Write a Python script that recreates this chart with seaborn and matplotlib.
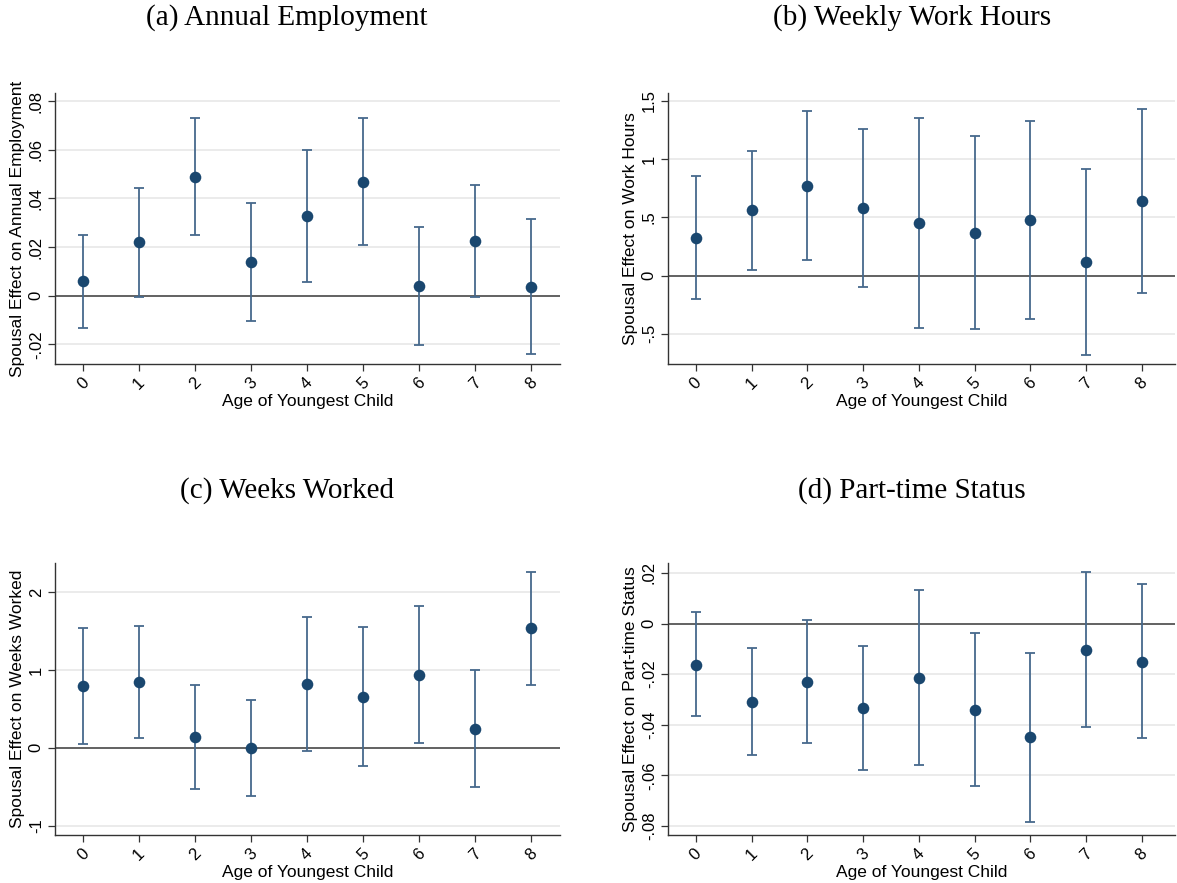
import numpy as np
import pandas as pd
import seaborn as sns
import matplotlib.pyplot as plt
from matplotlib.ticker import FixedLocator

# ── Data ──────────────────────────────────────────────────────────────────────
ages = [0, 1, 2, 3, 4, 5, 6, 7, 8]

emp_est = [0.0060, 0.0219, 0.0488, 0.0137, 0.0327, 0.0469, 0.0040, 0.0227, 0.0036]
emp_hi = [0.0249, 0.0444, 0.0730, 0.0380, 0.0599, 0.0732, 0.0284, 0.0457, 0.0315]
emp_lo = [-0.0131, -0.0005, 0.0249, -0.0105, 0.0057, 0.0208, -0.0202, -0.0004, -0.0241]

hrs_est = [0.326, 0.558, 0.770, 0.578, 0.447, 0.366, 0.475, 0.117, 0.638]
hrs_hi = [0.856, 1.071, 1.409, 1.257, 1.348, 1.197, 1.326, 0.913, 1.429]
hrs_lo = [-0.200, 0.046, 0.132, -0.100, -0.452, -0.461, -0.375, -0.679, -0.152]

wks_est = [0.797, 0.849, 0.137, 0.000, 0.819, 0.656, 0.939, 0.244, 1.534]
wks_hi = [1.539, 1.565, 0.802, 0.617, 1.676, 1.552, 1.826, 0.999, 2.259]
wks_lo = [0.056, 0.133, -0.527, -0.613, -0.034, -0.236, 0.064, -0.506, 0.814]

pt_est = [-0.0162, -0.0309, -0.0230, -0.0333, -0.0214, -0.0342, -0.0450, -0.0103, -0.0151]
pt_hi = [0.0045, -0.0095, 0.0015, -0.0087, 0.0132, -0.0038, -0.0116, 0.0203, 0.0155]
pt_lo = [-0.0366, -0.0518, -0.0472, -0.0577, -0.0559, -0.0643, -0.0785, -0.0410, -0.0453]

emp_ticks = [-0.02, 0, 0.02, 0.04, 0.06, 0.08]
emp_ticklabels = ["-.02", "0", ".02", ".04", ".06", ".08"]
hrs_ticks = [-0.5, 0, 0.5, 1, 1.5]
hrs_ticklabels = ["-.5", "0", ".5", "1", "1.5"]
wks_ticks = [-1, 0, 1, 2]
wks_ticklabels = ["-1", "0", "1", "2"]
pt_ticks = [-0.08, -0.06, -0.04, -0.02, 0, 0.02]
pt_ticklabels = ["-.08", "-.06", "-.04", "-.02", "0", ".02"]

panels = [
    ("(a) Annual Employment", "Spousal Effect on Annual Employment",
     emp_est, emp_lo, emp_hi, emp_ticks, emp_ticklabels, (-0.028, 0.0833)),
    ("(b) Weekly Work Hours", "Spousal Effect on Work Hours",
     hrs_est, hrs_lo, hrs_hi, hrs_ticks, hrs_ticklabels, (-0.759, 1.566)),
    ("(c) Weeks Worked", "Spousal Effect on Weeks Worked",
     wks_est, wks_lo, wks_hi, wks_ticks, wks_ticklabels, (-1.119, 2.375)),
    ("(d) Part-time Status", "Spousal Effect on Part-time Status",
     pt_est, pt_lo, pt_hi, pt_ticks, pt_ticklabels, (-0.0835, 0.0239)),
]

# ── Style ─────────────────────────────────────────────────────────────────────
sns.set_theme(style="white")
plt.rcParams["font.family"] = ["Liberation Sans", "DejaVu Sans"]
plt.rcParams["text.color"] = "black"
plt.rcParams["axes.labelcolor"] = "black"
plt.rcParams["xtick.color"] = "black"
plt.rcParams["ytick.color"] = "black"
NAVY = "#1a476f"
BAR = "#46698c"

fig = plt.figure(figsize=(11.77, 8.83), dpi=100)
# axes rectangles (left, bottom, width, height)
rects = [
    (0.0467, 0.5878, 0.4295, 0.3069),
    (0.5675, 0.5878, 0.4310, 0.3069),
    (0.0467, 0.0544, 0.4295, 0.3080),
    (0.5675, 0.0544, 0.4310, 0.3080),
]
title_pos = [(0.2438, 0.9796), (0.775, 0.9796), (0.2438, 0.4450), (0.775, 0.4450)]

for rect, tpos, (title, ylab, est, lo, hi, ticks, tlabels, ylim) in zip(rects, title_pos, panels):
    ax = fig.add_axes(rect)
    df = pd.DataFrame({"age": ages, "est": est, "lo": lo, "hi": hi})

    for t in ticks:
        if t != 0:
            ax.axhline(t, color="#e8e8e8", linewidth=1.2, zorder=0)
    ax.axhline(0, color="#555555", linewidth=1.3, zorder=1)

    ax.errorbar(df["age"], df["est"],
                yerr=[df["est"] - df["lo"], df["hi"] - df["est"]],
                fmt="none", ecolor=BAR, elinewidth=1.3, capsize=3.5,
                capthick=1.3, zorder=2)
    sns.scatterplot(data=df, x="age", y="est", ax=ax, color=NAVY, s=70,
                    edgecolor=NAVY, linewidth=0, zorder=3)

    ax.set_xlim(-0.5, 8.52 if rect[0] < 0.5 else 8.6)
    ax.set_ylim(*ylim)
    ax.set_xticks(ages)
    ax.set_xticklabels([str(a) for a in ages], rotation=45, fontsize=12)
    ax.yaxis.set_major_locator(FixedLocator(ticks))
    ax.set_yticklabels(tlabels, rotation=90, va="center", fontsize=12)
    ax.tick_params(axis="both", direction="out", length=5, width=0.9,
                   color="#333333", bottom=True, left=True, pad=3)
    ax.set_xlabel("Age of Youngest Child", fontsize=12.5, labelpad=1)
    ax.set_ylabel(ylab, fontsize=12.5, labelpad=3)

    for side in ["top", "right"]:
        ax.spines[side].set_visible(False)
    for side in ["left", "bottom"]:
        ax.spines[side].set_color("#333333")
        ax.spines[side].set_linewidth(1.0)

    fig.text(tpos[0], tpos[1], title, fontsize=21, ha="center", va="center",
             family=["Liberation Serif", "DejaVu Serif"])

plt.savefig("out.png", dpi=100)
